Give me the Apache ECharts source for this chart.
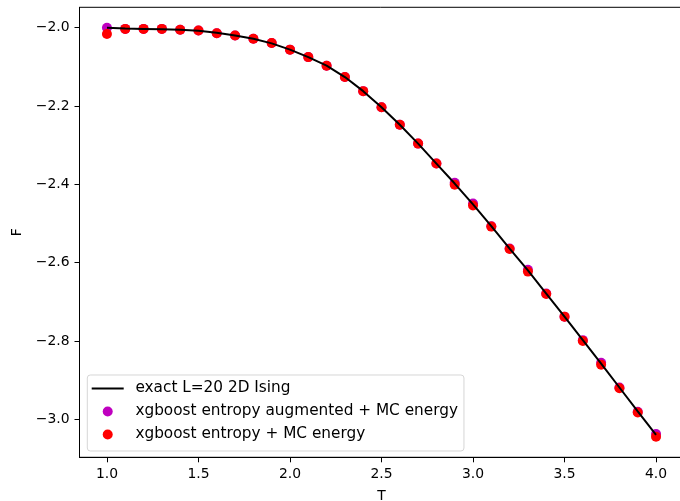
<!DOCTYPE html>
<html>
<head>
<meta charset="utf-8">
<script src="https://cdn.jsdelivr.net/npm/echarts@6/dist/echarts.min.js"></script>
<style>html,body{margin:0;padding:0;background:#fff;}#c{width:680px;height:501px;}</style>
</head>
<body>
<div id="c"></div>
<script>
const T = [1.0,1.1,1.2,1.3,1.4,1.5,1.6,1.7,1.8,1.9,2.0,2.1,2.2,2.3,2.4,2.5,2.6,2.7,2.8,2.9,3.0,3.1,3.2,3.3,3.4,3.5,3.6,3.7,3.8,3.9,4.0];
const exactF = [-2.000,-2.002,-2.003,-2.004,-2.005,-2.008,-2.013,-2.020,-2.028,-2.040,-2.056,-2.075,-2.097,-2.126,-2.162,-2.203,-2.248,-2.296,-2.347,-2.398,-2.451,-2.507,-2.564,-2.620,-2.679,-2.738,-2.798,-2.858,-2.919,-2.980,-3.040];
const augF = [-2.000,-2.003,-2.003,-2.003,-2.005,-2.007,-2.014,-2.020,-2.028,-2.039,-2.056,-2.075,-2.097,-2.126,-2.162,-2.203,-2.248,-2.296,-2.347,-2.396,-2.449,-2.507,-2.564,-2.618,-2.679,-2.738,-2.798,-2.856,-2.919,-2.981,-3.038];
const mcF = [-2.016,-2.003,-2.003,-2.003,-2.005,-2.007,-2.014,-2.020,-2.028,-2.039,-2.056,-2.075,-2.097,-2.126,-2.162,-2.203,-2.248,-2.296,-2.347,-2.401,-2.454,-2.508,-2.565,-2.623,-2.680,-2.738,-2.800,-2.861,-2.921,-2.983,-3.045];
const xTicks = [1.0,1.5,2.0,2.5,3.0,3.5,4.0];
const yTicks = [-3.0,-2.8,-2.6,-2.4,-2.2,-2.0];
const names = ['exact L=20 2D Ising','xgboost entropy augmented + MC energy','xgboost entropy + MC energy'];

const FONT = 'DejaVu Sans';
const fmt = v => v.toFixed(1).replace('-', '\u2212');
const pairs = ys => T.map((t,i)=>[t, ys[i]]);

const chart = echarts.init(document.getElementById('c'), null, {renderer:'canvas'});
chart.setOption({
  animation: false,
  backgroundColor: '#fff',
  grid: {left: 79.5, right: -3.5, top: 7.3, bottom: 43.7, show: true, borderColor: '#000', borderWidth: 1,
         containLabel: false, outerBoundsMode: 'none'},
  xAxis: {
    type: 'value', min: 0.85, max: 4.15,
    name: 'T', nameLocation: 'middle', nameGap: 32,
    nameTextStyle: {fontFamily: FONT, fontSize: 13.9, color: '#000'},
    axisLine: {show: true, onZero: false, lineStyle: {color: '#000', width: 1}},
    axisTick: {show: true, length: 5, customValues: xTicks, lineStyle: {color: '#000', width: 1}},
    axisLabel: {customValues: xTicks, formatter: fmt, margin: 10, fontFamily: FONT, fontSize: 13.9, color: '#000'},
    splitLine: {show: false}
  },
  yAxis: {
    type: 'value', min: -3.0973, max: -1.9478,
    name: 'F', nameLocation: 'middle', nameGap: 54,
    nameTextStyle: {fontFamily: FONT, fontSize: 13.9, color: '#000'},
    axisLine: {show: true, onZero: false, lineStyle: {color: '#000', width: 1}},
    axisTick: {show: true, length: 5, customValues: yTicks, lineStyle: {color: '#000', width: 1}},
    axisLabel: {customValues: yTicks, formatter: fmt, margin: 10, fontFamily: FONT, fontSize: 13.9, color: '#000'},
    splitLine: {show: false}
  },
  legend: {
    orient: 'vertical', left: 87.3, top: 375,
    data: [
      {name: names[0], icon: 'path://M0,0H32V2H0Z'},
      {name: names[1], icon: 'circle'},
      {name: names[2], icon: 'circle'}
    ],
    padding: [5, 6, 8, 4.4],
    itemWidth: 32, itemHeight: 10, itemGap: 6,
    borderColor: 'rgba(204,204,204,0.8)', borderWidth: 1, borderRadius: 3,
    backgroundColor: 'rgba(255,255,255,0.8)',
    textStyle: {fontFamily: FONT, fontSize: 15.3, color: '#000', lineHeight: 17, padding: [0, 0, 0, 6.7]},
    selectedMode: false
  },
  series: [
    {name: names[0], type: 'line', data: pairs(exactF), symbol: 'none', showSymbol: false,
     lineStyle: {color: '#000', width: 2}, itemStyle: {color: '#000'}},
    {name: names[1], type: 'scatter', data: pairs(augF), symbol: 'circle', symbolSize: 10,
     itemStyle: {color: '#bf00bf', opacity: 1}},
    {name: names[2], type: 'scatter', data: pairs(mcF), symbol: 'circle', symbolSize: 10,
     itemStyle: {color: '#ff0000', opacity: 1}}
  ]
});
</script>
</body>
</html>
